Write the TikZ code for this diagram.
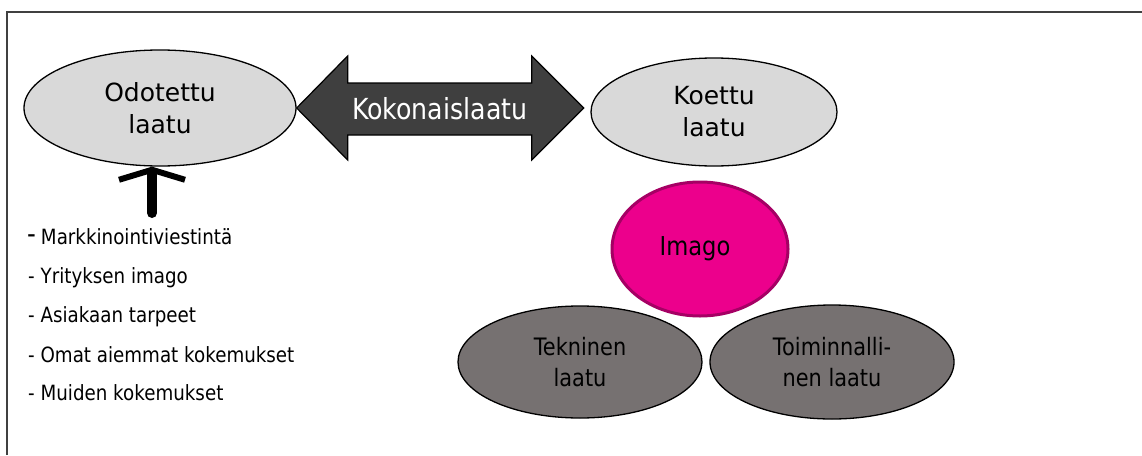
\documentclass[tikz,border=0pt]{standalone}
\usepackage{fontspec}
\setmainfont{DejaVu Sans}[FakeStretch=0.87]
\newfontfamily\widefont{DejaVu Sans}
\usetikzlibrary{arrows.meta,shapes.geometric,calc}
\definecolor{lgray}{HTML}{D9D9D9}
\definecolor{dgray}{HTML}{767171}
\definecolor{darrow}{HTML}{3F3F3F}
\definecolor{imago}{HTML}{EC008C}
\definecolor{imagoline}{HTML}{A50064}
\newcommand{\fs}[1]{\fontsize{#1}{#1}\selectfont}

\begin{document}
\begin{tikzpicture}[x=1pt,y=-1pt,
  oval/.style={ellipse,draw,line width=1.3pt,inner sep=0pt,align=center,
    font=\fontsize{24}{31}\selectfont},
  item/.style={anchor=west,inner sep=0pt,font=\fontsize{21}{25}\selectfont}]
  \useasboundingbox (0,0) rectangle (1142,455);
  % frame
  \draw[line width=1.5pt,black!75] (7,455) -- (7,12) -- (1142,12);
  % expected / experienced quality
  \node[oval,fill=lgray,minimum width=272,minimum height=116,font=\widefont\fontsize{25}{32}\selectfont] (odotettu) at (160,108) {Odotettu\\laatu};
  \node[oval,fill=lgray,minimum width=246,minimum height=108,font=\widefont\fontsize{25}{32}\selectfont] (koettu) at (714,112) {Koettu\\laatu};
  % total quality
  \coordinate (kl) at (odotettu.east);
  \filldraw[darrow,draw=black,line width=1.2pt] (kl) -- ++(51,-52) -- ++(0,27) -- ++(184,0) -- ++(0,-27)
    -- ++(52,52) -- ++(-52,52) -- ++(0,-25) -- ++(-184,0) -- ++(0,25) -- cycle;
  \node[text=white,font=\fs{29}] (kok) at ($(kl)+(143,1)$) {Kokonaislaatu};
  % image and dimensions
  \node[oval,fill=imago,draw=imagoline,line width=3pt,minimum width=176,minimum height=134,font=\fs{26}] (img) at (700,249) {Imago\hspace{10pt}};
  \node[oval,fill=dgray,minimum width=244,minimum height=112] (tek) at (580,362) {Tekninen\\laatu};
  \node[oval,fill=dgray,minimum width=244,minimum height=114] (toim) at (832,362) {Toiminnalli-\\nen laatu};
  % factors
  \coordinate (src) at (152,213);
  \draw[line width=10pt,line cap=round,-{Straight Barb[length=10pt,width=66pt,line width=6pt]}]
    (src) -- (src |- odotettu.south);
  \node[item] (f1) at (27,237) {\raisebox{1.5pt}{\fs{28}-}\hspace{5pt}Markkinointiviestintä};
  \node[item] (f2) at (28,278) {- Yrityksen imago};
  \node[item] (f3) at (28,317) {- Asiakaan tarpeet};
  \node[item] (f4) at (28,355) {- Omat aiemmat kokemukset};
  \node[item] (f5) at (28,393) {- Muiden kokemukset};
\end{tikzpicture}
\end{document}
